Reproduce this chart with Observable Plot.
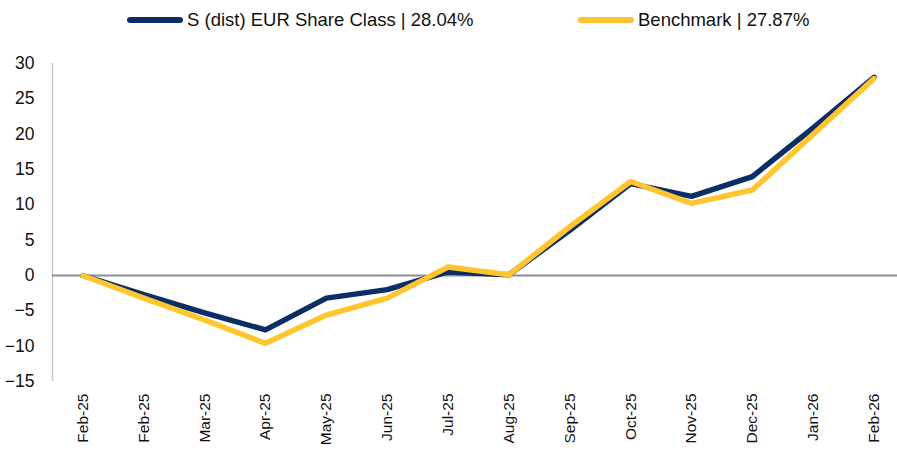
<!DOCTYPE html>
<html>
<head>
<meta charset="utf-8">
<script src="https://cdn.jsdelivr.net/npm/d3@7"></script>
<script src="https://cdn.jsdelivr.net/npm/@observablehq/plot@0.6"></script>
<style>
  html, body { margin: 0; padding: 0; background: #fff; }
  body { width: 897px; height: 452px; overflow: hidden; font-family: "Liberation Sans", Arial, sans-serif; }
  .legend { position: relative; height: 42px; }
  .item { position: absolute; top: 9px; display: flex; align-items: center; font-size: 18.5px; color: #111; white-space: nowrap; }
  .sw { width: 56px; height: 6px; border-radius: 3px; margin-right: 4px; }
  svg { display: block; }
</style>
</head>
<body>
<div class="legend" id="legend"></div>
<div id="chart"></div>
<script>
const labels = ["Feb-25","Feb-25","Mar-25","Apr-25","May-25","Jun-25","Jul-25","Aug-25","Sep-25","Oct-25","Nov-25","Dec-25","Jan-26","Feb-26"];
const fund = [0, -2.7, -5.3, -7.7, -3.2, -2.0, 0.5, 0.1, 6.4, 13.0, 11.2, 14.0, 20.9, 28.04];
const bench = [0, -3.2, -6.3, -9.6, -5.6, -3.2, 1.2, 0.1, 6.9, 13.3, 10.2, 12.1, 20.0, 27.87];
const seriesNames = ["S (dist) EUR Share Class | 28.04%", "Benchmark | 27.87%"];
const colors = ["#0b2f65", "#fec52e"];
const yTicks = [30, 25, 20, 15, 10, 5, 0, -5, -10, -15];

const legend = document.getElementById("legend");
const lefts = [127, 578];
seriesNames.forEach((n, i) => {
  const d = document.createElement("div");
  d.className = "item";
  d.style.left = lefts[i] + "px";
  d.innerHTML = `<span class="sw" style="background:${colors[i]}"></span><span>${n}</span>`;
  legend.appendChild(d);
});

const idx = labels.map((_, i) => i);
const data = [];
fund.forEach((v, i) => data.push({i, v, s: seriesNames[0]}));
bench.forEach((v, i) => data.push({i, v, s: seriesNames[1]}));

const chart = Plot.plot({
  width: 897,
  height: 410,
  marginLeft: 52,
  marginRight: -7,
  marginTop: 21,
  marginBottom: 71,
  style: { fontFamily: "Liberation Sans, Arial, sans-serif", color: "#111", background: "#fff" },
  x: { type: "linear", domain: [-0.5, labels.length - 0.5] },
  y: { domain: [-15, 30] },
  marks: [
    Plot.ruleX([-0.5], { y1: -15, y2: 30, stroke: "#c3c6cb", strokeWidth: 1.5 }),
    Plot.ruleY([0], { stroke: "#8a8f98", strokeWidth: 2 }),
    Plot.axisY({ ticks: yTicks, tickSize: 0, tickPadding: 18, fontSize: 17.5, label: null }),
    Plot.axisX({ ticks: idx, tickFormat: i => labels[i], tickSize: 0, tickPadding: 12, tickRotate: -90, fontSize: 15.5, label: null }),
    Plot.line(data.filter(d => d.s === seriesNames[0]), { x: "i", y: "v", stroke: colors[0], strokeWidth: 5.5, strokeLinecap: "round", strokeLinejoin: "round" }),
    Plot.line(data.filter(d => d.s === seriesNames[1]), { x: "i", y: "v", stroke: colors[1], strokeWidth: 5.5, strokeLinecap: "round", strokeLinejoin: "round" })
  ]
});
document.getElementById("chart").appendChild(chart);
</script>
</body>
</html>
